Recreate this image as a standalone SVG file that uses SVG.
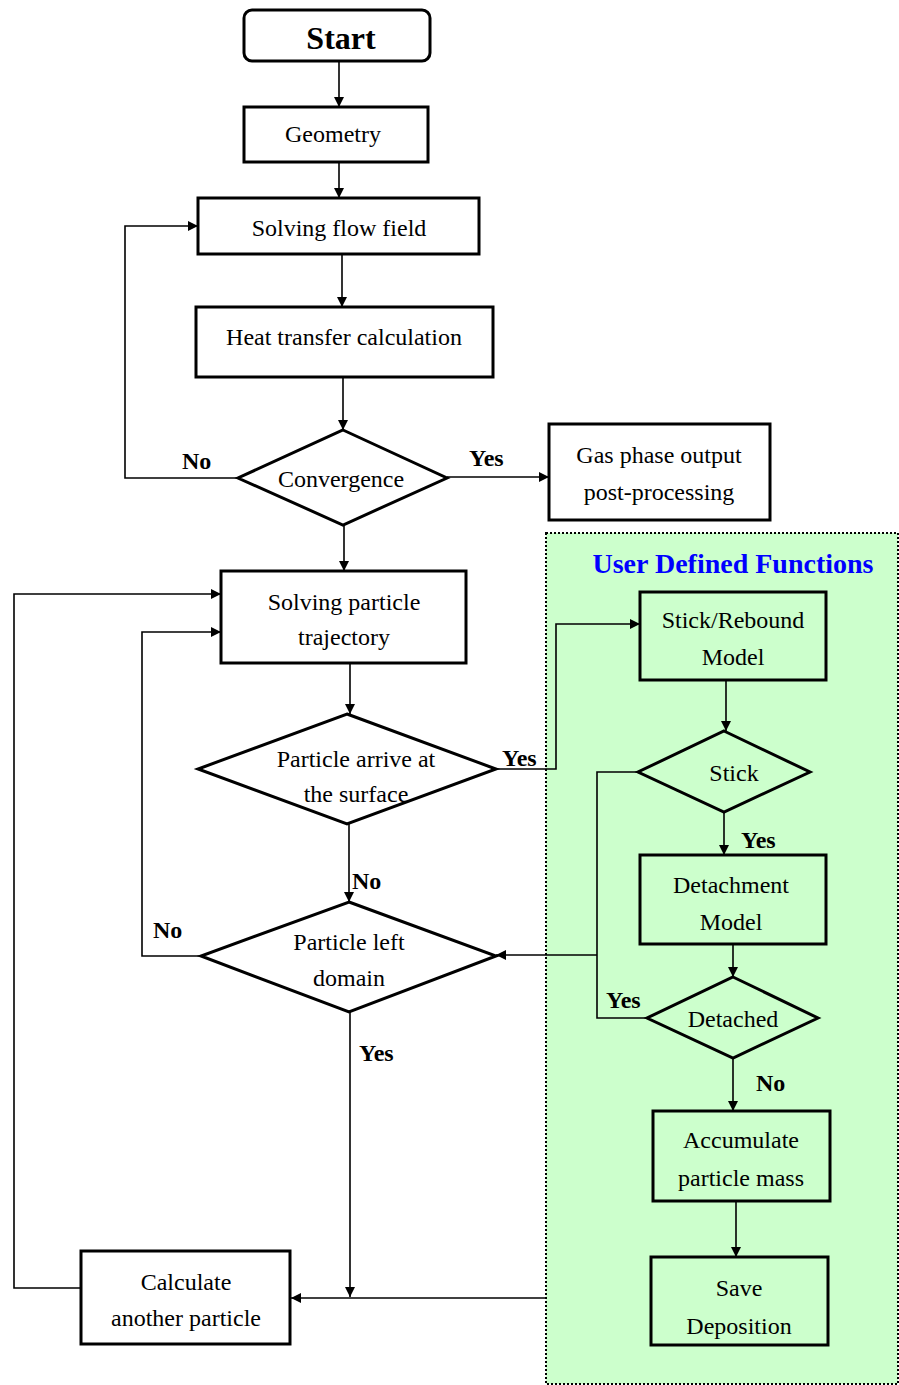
<svg xmlns="http://www.w3.org/2000/svg" width="899" height="1385" viewBox="0 0 899 1385">
<style>
.box{fill:#fff;stroke:#000;stroke-width:3}
.gbox{fill:#ccffcc;stroke:#000;stroke-width:3}
.t{font-family:"Liberation Serif","Times New Roman",serif;font-size:24px;fill:#000;text-anchor:middle}
.lbl{font-family:"Liberation Serif","Times New Roman",serif;font-size:24px;font-weight:bold;fill:#000}
.c{fill:none;stroke:#000;stroke-width:1.6}
</style>
<defs>
<marker id="ah" viewBox="0 0 10 10" refX="10" refY="5" markerWidth="10" markerHeight="10" markerUnits="userSpaceOnUse" orient="auto">
<path d="M0,0 L10,5 L0,10 Z" fill="#000"/>
</marker>
</defs>
<rect width="899" height="1385" fill="#fff"/>
<g id="udf-region">
<rect x="546" y="533" width="352" height="851" fill="#ccffcc" stroke="#000" stroke-width="2" stroke-dasharray="2,2"/>
<text x="733" y="573" font-family="Liberation Serif, Times New Roman, serif" font-size="28" font-weight="bold" fill="#0000ff" text-anchor="middle">User Defined Functions</text>
</g>
<g id="connectors">
<path class="c" d="M339,61 V107" marker-end="url(#ah)"/>
<path class="c" d="M339,162 V198" marker-end="url(#ah)"/>
<path class="c" d="M342,254 V307" marker-end="url(#ah)"/>
<path class="c" d="M343,377 V430" marker-end="url(#ah)"/>
<path class="c" d="M238,478 H125 V226 H198" marker-end="url(#ah)"/>
<path class="c" d="M447,477 H549" marker-end="url(#ah)"/>
<path class="c" d="M344,525 V571" marker-end="url(#ah)"/>
<path class="c" d="M350,663 V714" marker-end="url(#ah)"/>
<path class="c" d="M496,769 H556 V624 H640" marker-end="url(#ah)"/>
<path class="c" d="M726,680 V731" marker-end="url(#ah)"/>
<path class="c" d="M724,812 V855" marker-end="url(#ah)"/>
<path class="c" d="M733,944 V977" marker-end="url(#ah)"/>
<path class="c" d="M638,772 H597 V1018 H647"/>
<path class="c" d="M597,955 H496" marker-end="url(#ah)"/>
<path class="c" d="M349,824 V902" marker-end="url(#ah)"/>
<path class="c" d="M201,956 H142 V632 H221" marker-end="url(#ah)"/>
<path class="c" d="M350,1012 V1297" marker-end="url(#ah)"/>
<path class="c" d="M546,1298 H291" marker-end="url(#ah)"/>
<path class="c" d="M81,1288 H14 V594 H221" marker-end="url(#ah)"/>
<path class="c" d="M733,1058 V1111" marker-end="url(#ah)"/>
<path class="c" d="M736,1201 V1257" marker-end="url(#ah)"/>
<text class="lbl" x="182" y="469">No</text>
<text class="lbl" x="469" y="466">Yes</text>
<text class="lbl" x="502" y="766">Yes</text>
<text class="lbl" x="741" y="848">Yes</text>
<text class="lbl" x="352" y="889">No</text>
<text class="lbl" x="153" y="938">No</text>
<text class="lbl" x="606" y="1008">Yes</text>
<text class="lbl" x="359" y="1061">Yes</text>
<text class="lbl" x="756" y="1091">No</text>
</g>
<g id="start">
<rect x="244" y="10" width="186" height="51" rx="8" class="box"/>
<text x="341" y="49" font-family="Liberation Serif, Times New Roman, serif" font-size="32" font-weight="bold" text-anchor="middle">Start</text>
</g>
<g id="geometry">
<rect x="244" y="107" width="184" height="55" class="box"/>
<text class="t" x="333" y="142">Geometry</text>
</g>
<g id="solving-flow">
<rect x="198" y="198" width="281" height="56" class="box"/>
<text class="t" x="339" y="236">Solving flow field</text>
</g>
<g id="heat-transfer">
<rect x="196" y="307" width="297" height="70" class="box"/>
<text class="t" x="344" y="345">Heat transfer calculation</text>
</g>
<g id="convergence">
<path d="M343,430 L447,478 L343,525 L238,478 Z" class="box"/>
<text class="t" x="341" y="487">Convergence</text>
</g>
<g id="gas-phase">
<rect x="549" y="424" width="221" height="96" class="box"/>
<text class="t" x="659" y="463">Gas phase output</text>
<text class="t" x="659" y="500">post-processing</text>
</g>
<g id="solving-particle">
<rect x="221" y="571" width="245" height="92" class="box"/>
<text class="t" x="344" y="610">Solving particle</text>
<text class="t" x="344" y="645">trajectory</text>
</g>
<g id="particle-arrive">
<path d="M347,714 L496,769 L347,824 L198,769 Z" class="box"/>
<text class="t" x="356" y="767">Particle arrive at</text>
<text class="t" x="356" y="802">the surface</text>
</g>
<g id="particle-left">
<path d="M349,902 L496,956 L349,1012 L201,956 Z" class="box"/>
<text class="t" x="349" y="950">Particle left</text>
<text class="t" x="349" y="986">domain</text>
</g>
<g id="calc-another">
<rect x="81" y="1251" width="209" height="93" class="box"/>
<text class="t" x="186" y="1290">Calculate</text>
<text class="t" x="186" y="1326">another particle</text>
</g>
<g id="stick-rebound">
<rect x="640" y="592" width="186" height="88" class="gbox"/>
<text class="t" x="733" y="628">Stick/Rebound</text>
<text class="t" x="733" y="665">Model</text>
</g>
<g id="stick">
<path d="M724,731 L810,772 L724,812 L638,772 Z" class="gbox"/>
<text class="t" x="734" y="781">Stick</text>
</g>
<g id="detachment">
<rect x="640" y="855" width="186" height="89" class="gbox"/>
<text class="t" x="731" y="893">Detachment</text>
<text class="t" x="731" y="930">Model</text>
</g>
<g id="detached">
<path d="M733,977 L818,1018 L733,1058 L647,1018 Z" class="gbox"/>
<text class="t" x="733" y="1027">Detached</text>
</g>
<g id="accumulate">
<rect x="653" y="1111" width="177" height="90" class="gbox"/>
<text class="t" x="741" y="1148">Accumulate</text>
<text class="t" x="741" y="1186">particle mass</text>
</g>
<g id="save-deposition">
<rect x="651" y="1257" width="177" height="88" class="gbox"/>
<text class="t" x="739" y="1296">Save</text>
<text class="t" x="739" y="1334">Deposition</text>
</g>
</svg>
